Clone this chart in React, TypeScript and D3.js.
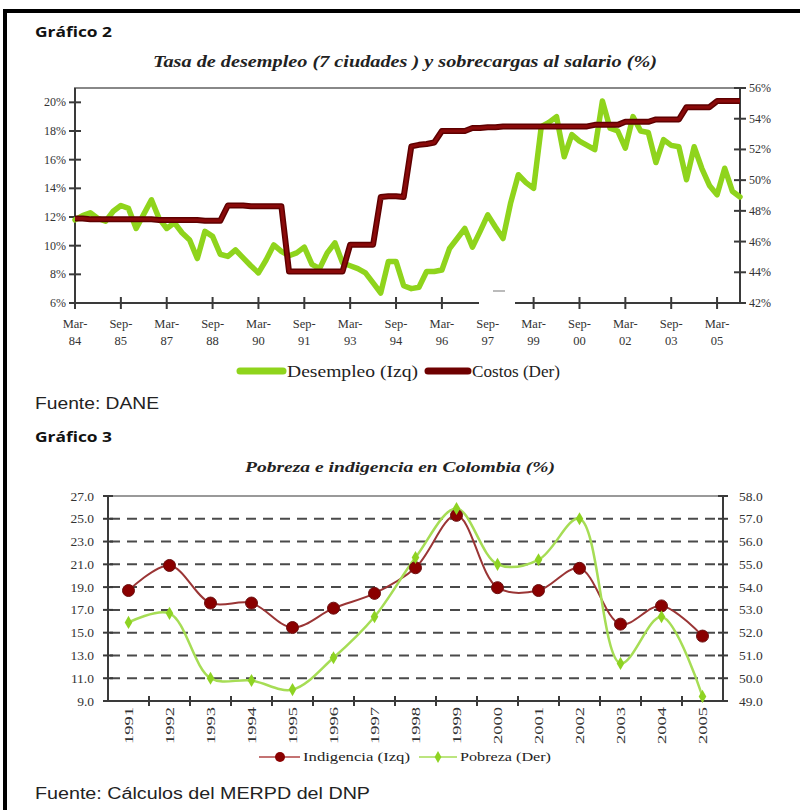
import React from "react";
import * as d3 from "d3";

// ---------- Gráfico 2 data (quarterly, Mar-84 .. Dec-05) ----------
const desempleo: number[] = [
  11.8, 12.1, 12.3, 11.9, 11.7, 12.4, 12.8, 12.6, 11.2, 12.2,
  13.2, 11.9, 11.2, 11.6, 10.9, 10.4, 9.1, 11.0, 10.65, 9.4,
  9.25, 9.7, 9.15, 8.6, 8.1, 9.0, 10.05, 9.6, 9.3, 9.5,
  9.9, 8.7, 8.4, 9.5, 10.2, 8.8, 8.6, 8.4, 8.1, 7.4,
  6.7, 8.9, 8.9, 7.2, 7.0, 7.1, 8.2, 8.2, 8.3, 9.8,
  10.5, 11.2, 9.9, 11.0, 12.15, 11.3, 10.5, 13.0, 14.95, 14.4,
  14.0, 18.3, 18.6, 19.0, 16.2, 17.75, 17.3, 17.0, 16.7, 20.1,
  18.2, 18.0, 16.8, 19.0, 18.0, 17.9, 15.8, 17.4, 17.0, 16.9,
  14.6, 16.9, 15.4, 14.2, 13.55, 15.4, 13.8, 13.4,
];
const costos: number[] = [
  47.5, 47.5, 47.45, 47.45, 47.45, 47.45, 47.45, 47.45, 47.45, 47.45,
  47.45, 47.4, 47.4, 47.4, 47.4, 47.4, 47.4, 47.35, 47.35, 47.35,
  48.35, 48.35, 48.35, 48.3, 48.3, 48.3, 48.3, 48.3, 44.05, 44.05,
  44.05, 44.05, 44.05, 44.05, 44.05, 44.05, 45.8, 45.8, 45.8, 45.8,
  48.9, 48.95, 48.95, 48.9, 52.2, 52.3, 52.35, 52.45, 53.2, 53.2,
  53.2, 53.2, 53.4, 53.4, 53.45, 53.45, 53.5, 53.5, 53.5, 53.5,
  53.5, 53.5, 53.5, 53.5, 53.5, 53.5, 53.5, 53.5, 53.6, 53.6,
  53.6, 53.6, 53.8, 53.8, 53.8, 53.8, 53.95, 53.95, 53.95, 53.95,
  54.75, 54.75, 54.75, 54.75, 55.15, 55.15, 55.15, 55.15,
];
const topTickLabels: string[][] = [
  ["Mar-", "84"], ["Sep-", "85"], ["Mar-", "87"], ["Sep-", "88"], ["Mar-", "90"],
  ["Sep-", "91"], ["Mar-", "93"], ["Sep-", "94"], ["Mar-", "96"], ["Sep-", "97"],
  ["Mar-", "99"], ["Sep-", "00"], ["Mar-", "02"], ["Sep-", "03"], ["Mar-", "05"],
];
const leftTicksTop: number[] = [6, 8, 10, 12, 14, 16, 18, 20];
const rightTicksTop: number[] = [42, 44, 46, 48, 50, 52, 54, 56];

// ---------- Gráfico 3 data ----------
const years: string[] = [
  "1991", "1992", "1993", "1994", "1995", "1996", "1997", "1998",
  "1999", "2000", "2001", "2002", "2003", "2004", "2005",
];
const indigencia: number[] = [18.7, 20.9, 17.6, 17.6, 15.45, 17.15, 18.45, 20.7, 25.3, 18.95, 18.7, 20.65, 15.75, 17.35, 14.7];
const pobreza: number[] = [52.45, 52.85, 50.0, 49.9, 49.5, 50.9, 52.7, 55.3, 57.45, 55.0, 55.2, 57.0, 50.65, 52.7, 49.2];
const leftTicksBot: number[] = [9, 11, 13, 15, 17, 19, 21, 23, 25, 27];
const rightTicksBot: number[] = [49, 50, 51, 52, 53, 54, 55, 56, 57, 58];

const SERIF = "'Liberation Serif', 'DejaVu Serif', serif";
const SANS = "'Liberation Sans', Arial, sans-serif";
const HEAD = "'Open Sans', 'Liberation Sans', sans-serif";

export default function App() {
  // ---- top chart scales ----
  const x1 = d3.scaleLinear().domain([0, 87]).range([75, 740]);
  const yL1 = d3.scaleLinear().domain([6, 21]).range([303, 88]);
  const yR1 = d3.scaleLinear().domain([42, 56]).range([303, 88]);
  const lineD = d3
    .line<number>()
    .x((_, i) => x1(i))
    .y((d) => yL1(d));
  const lineC = d3
    .line<number>()
    .x((_, i) => x1(i))
    .y((d) => yR1(d));

  // ---- bottom chart scales ----
  const xb = d3.scaleBand<string>().domain(years).range([108, 723]);
  const cx = (y: string) => (xb(y) as number) + xb.bandwidth() / 2;
  const yL2 = d3.scaleLinear().domain([9, 27]).range([701, 496]);
  const yR2 = d3.scaleLinear().domain([49, 58]).range([701, 496]);
  const curve = d3.curveCatmullRom.alpha(0.5);
  const lineI = d3
    .line<number>()
    .x((_, i) => cx(years[i]))
    .y((d) => yL2(d))
    .curve(curve);
  const lineP = d3
    .line<number>()
    .x((_, i) => cx(years[i]))
    .y((d) => yR2(d))
    .curve(curve);
  const diamond = d3.symbol().type(d3.symbolDiamond).size(50)() as string;
  const diamondLeg = d3.symbol().type(d3.symbolDiamond).size(40)() as string;

  const axisCol = "#3a3a3a";

  return (
    <svg
      width={800}
      height={810}
      style={{ position: "absolute", left: 0, top: 0, background: "#fff" }}
    >
      <rect x={0} y={0} width={800} height={810} fill="#fff" />
      {/* outer photo frame */}
      <rect x={3} y={9} width={797} height={4} fill="#000" />
      <rect x={3} y={9} width={4} height={801} fill="#000" />

      {/* ================= Gráfico 2 ================= */}
      <text x={35} y={37} fontFamily={HEAD} fontWeight="bold" fontSize={14} fill="#111"
        textLength={77} lengthAdjust="spacingAndGlyphs">
        Gráfico 2
      </text>
      <text
        x={153}
        y={67}
        fontFamily={SERIF}
        fontStyle="italic"
        fontWeight="bold"
        fontSize={16}
        fill="#222"
        textLength={504}
        lengthAdjust="spacingAndGlyphs"
      >
        Tasa de desempleo (7 ciudades ) y sobrecargas al salario (%)
      </text>

      {/* plot frame */}
      <rect x={75} y={88} width={665} height={215} fill="none" stroke="#888" strokeWidth={2} />
      <line x1={75} x2={75} y1={88} y2={303} stroke={axisCol} strokeWidth={2} />
      <line x1={740} x2={740} y1={88} y2={303} stroke={axisCol} strokeWidth={2} />
      <line x1={75} x2={740} y1={303} y2={303} stroke={axisCol} strokeWidth={2} />

      {leftTicksTop.map((t) => (
        <g key={"lt" + t}>
          <line x1={69} x2={81} y1={yL1(t)} y2={yL1(t)} stroke={axisCol} strokeWidth={2} />
          <text
            x={66}
            y={yL1(t) + 4}
            textAnchor="end"
            fontFamily={SERIF}
            fontSize={12}
            fill="#333"
          >
            {t}%
          </text>
        </g>
      ))}
      {rightTicksTop.map((t) => (
        <g key={"rt" + t}>
          <line x1={734} x2={746} y1={yR1(t)} y2={yR1(t)} stroke={axisCol} strokeWidth={2} />
          <text x={749} y={yR1(t) + 4} fontFamily={SERIF} fontSize={12} fill="#333">
            {t}%
          </text>
        </g>
      ))}
      {topTickLabels.map((lab, k) => {
        const xx = x1(k * 6);
        return (
          <g key={"xt" + k}>
            <line x1={xx} x2={xx} y1={297} y2={309} stroke={axisCol} strokeWidth={2} />
            <text x={xx} y={328} textAnchor="middle" fontFamily={SERIF} fontSize={12.5} fill="#333">
              {lab[0]}
            </text>
            <text x={xx} y={345} textAnchor="middle" fontFamily={SERIF} fontSize={12.5} fill="#333">
              {lab[1]}
            </text>
          </g>
        );
      })}
      {/* white glare over the axis near Sep-97 */}
      <rect x={479} y={294} width={36} height={17} fill="#fff" />
      <line x1={493} x2={505} y1={291} y2={291} stroke="#bbb" strokeWidth={2} />

      <path
        d={lineD(desempleo) as string}
        fill="none"
        stroke="#8fd41c"
        strokeWidth={5.5}
        strokeLinejoin="round"
        strokeLinecap="round"
      />
      <path
        d={lineC(costos) as string}
        fill="none"
        stroke="#5e0000"
        strokeWidth={6}
        strokeLinejoin="round"
      />
      <path
        d={lineC(costos) as string}
        fill="none"
        stroke="#8a0a0a"
        strokeWidth={3}
        strokeLinejoin="round"
      />

      {/* legend top */}
      <line x1={240} x2={283} y1={371} y2={371} stroke="#8fd41c" strokeWidth={7} strokeLinecap="round" />
      <text x={287} y={377} fontFamily={SERIF} fontSize={17} fill="#222"
        textLength={131} lengthAdjust="spacingAndGlyphs">
        Desempleo (Izq)
      </text>
      <line x1={428} x2={468} y1={371} y2={371} stroke="#6e0000" strokeWidth={7} strokeLinecap="round" />
      <text x={472} y={377} fontFamily={SERIF} fontSize={17} fill="#222"
        textLength={88} lengthAdjust="spacingAndGlyphs">
        Costos (Der)
      </text>

      <text x={35} y={409} fontFamily={SANS} fontSize={16} fill="#222"
        textLength={124} lengthAdjust="spacingAndGlyphs">
        Fuente: DANE
      </text>

      {/* ================= Gráfico 3 ================= */}
      <text x={35} y={442} fontFamily={HEAD} fontWeight="bold" fontSize={14} fill="#111"
        textLength={77} lengthAdjust="spacingAndGlyphs">
        Gráfico 3
      </text>
      <text
        x={245}
        y={472}
        fontFamily={SERIF}
        fontStyle="italic"
        fontWeight="bold"
        fontSize={15}
        fill="#222"
        textLength={310}
        lengthAdjust="spacingAndGlyphs"
      >
        Pobreza e indigencia en Colombia (%)
      </text>

      {/* gridlines */}
      {leftTicksBot
        .filter((t) => t !== 9 && t !== 27)
        .map((t) => (
          <line
            key={"g" + t}
            x1={110}
            x2={721}
            y1={yL2(t)}
            y2={yL2(t)}
            stroke="#4a4a4a"
            strokeWidth={2}
            strokeDasharray="10,7"
          />
        ))}
      <line x1={108} x2={723} y1={496} y2={496} stroke="#777" strokeWidth={1.5} />
      <line x1={108} x2={108} y1={496} y2={701} stroke={axisCol} strokeWidth={2} />
      <line x1={723} x2={723} y1={496} y2={701} stroke={axisCol} strokeWidth={2} />
      <line x1={108} x2={723} y1={701} y2={701} stroke={axisCol} strokeWidth={2} />

      {leftTicksBot.map((t) => (
        <g key={"lb" + t}>
          <line x1={103} x2={113} y1={yL2(t)} y2={yL2(t)} stroke={axisCol} strokeWidth={2} />
          <text x={94} y={yL2(t) + 4.5} textAnchor="end" fontFamily={SERIF} fontSize={13.5} fill="#333">
            {t.toFixed(1)}
          </text>
        </g>
      ))}
      {rightTicksBot.map((t) => (
        <g key={"rb" + t}>
          <line x1={718} x2={728} y1={yR2(t)} y2={yR2(t)} stroke={axisCol} strokeWidth={2} />
          <text x={739} y={yR2(t) + 4.5} fontFamily={SERIF} fontSize={13.5} fill="#333">
            {t.toFixed(1)}
          </text>
        </g>
      ))}
      {years.map((yr, k) => {
        const bx = xb(yr) as number;
        return (
          <g key={"yr" + yr}>
            {k > 0 && <line x1={bx} x2={bx} y1={696} y2={706} stroke={axisCol} strokeWidth={2} />}
            <text
              transform={`translate(${cx(yr) + 4.5},${707}) rotate(-90)`}
              textAnchor="end"
              fontFamily={SERIF}
              fontSize={12.5}
              fill="#333"
              textLength={37}
              lengthAdjust="spacingAndGlyphs"
            >
              {yr}
            </text>
          </g>
        );
      })}

      <path d={lineI(indigencia) as string} fill="none" stroke="#9a3535" strokeWidth={2} />
      <path d={lineP(pobreza) as string} fill="none" stroke="#a6dd55" strokeWidth={2.5} />
      {indigencia.map((v, i) => (
        <circle key={"ci" + i} cx={cx(years[i])} cy={yL2(v)} r={6} fill="#8a0000" stroke="#6a1010" strokeWidth={1} />
      ))}
      {pobreza.map((v, i) => (
        <path key={"dp" + i} d={diamond} transform={`translate(${cx(years[i])},${yR2(v)})`} fill="#8ed322" />
      ))}

      {/* legend bottom */}
      <line x1={259} x2={300} y1={757} y2={757} stroke="#b04545" strokeWidth={1.5} />
      <circle cx={280} cy={757} r={5} fill="#8a0000" />
      <text x={303} y={761} fontFamily={SERIF} fontSize={13} fill="#222"
        textLength={107} lengthAdjust="spacingAndGlyphs">
        Indigencia (Izq)
      </text>
      <line x1={419} x2={457} y1={757} y2={757} stroke="#a6dd55" strokeWidth={1.5} />
      <path d={diamondLeg} transform="translate(438,757)" fill="#8ed322" />
      <text x={460} y={761} fontFamily={SERIF} fontSize={13} fill="#222"
        textLength={91} lengthAdjust="spacingAndGlyphs">
        Pobreza (Der)
      </text>

      <text x={35} y={799} fontFamily={SANS} fontSize={16} fill="#222"
        textLength={335} lengthAdjust="spacingAndGlyphs">
        Fuente: Cálculos del MERPD del DNP
      </text>
    </svg>
  );
}
